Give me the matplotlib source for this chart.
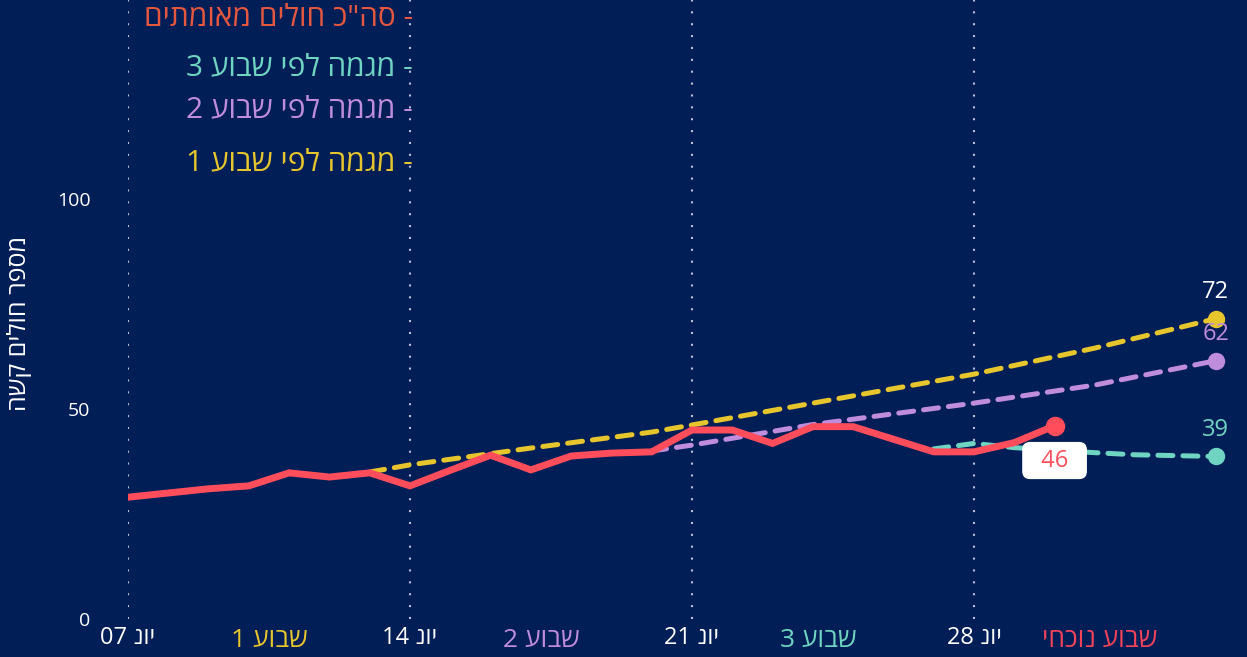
import re
import numpy as np
import pandas as pd
import matplotlib
matplotlib.use('Agg')
import matplotlib.pyplot as plt
import matplotlib.dates as mdates
import matplotlib.transforms as mtransforms

#########################
# DATA
#########################
actual_dates = pd.date_range('2021-06-07', '2021-06-30')
actual = [29, 30, 31, 31.7, 34.8, 33.8, 34.8, 31.7, 35.4, 39, 35.5, 38.8,
          39.5, 39.8, 45, 45, 41.8, 45.8, 45.8, 42.8, 39.8, 39.8, 42, 46]

trend1_dates = pd.to_datetime(['2021-06-13', '2021-06-14', '2021-06-17', '2021-06-20',
                               '2021-06-21', '2021-06-24', '2021-06-28', '2021-07-01', '2021-07-04'])
trend1 = [35, 36.7, 40.7, 44.5, 46.2, 51.4, 58.3, 64.5, 71.5]

trend2_dates = pd.to_datetime(['2021-06-20', '2021-06-21', '2021-06-24', '2021-06-28',
                               '2021-07-01', '2021-07-04'])
trend2 = [40, 41.4, 46.3, 51.4, 55.7, 61.5]

trend3_dates = pd.date_range('2021-06-27', '2021-07-04')
trend3 = [40.5, 41.8, 40.8, 40.2, 39.6, 39.1, 38.9, 38.7]

end_labels = {'actual': '46', 'trend1': '72', 'trend2': '62', 'trend3': '39'}

tick_dates = pd.to_datetime(['2021-06-07', '2021-06-14', '2021-06-21', '2021-06-28'])
tick_labels = ['יונ 07', 'יונ 14', 'יונ 21', 'יונ 28']

week_label_dates = pd.to_datetime(['2021-06-10 12:00', '2021-06-17 06:00',
                                   '2021-06-24 03:00', '2021-07-01 03:00'])
week_labels = ['שבוע 1', 'שבוע 2', 'שבוע 3', 'שבוע נוכחי']

legend_labels = ['- סה"כ חולים מאומתים', '- מגמה לפי שבוע 3',
                 '- מגמה לפי שבוע 2', '- מגמה לפי שבוע 1']
y_label = 'מספר חולים קשה'

#########################
# STYLE
#########################
BG = '#021e57'
RED = '#ff4d5c'
YELLOW = '#e6c62c'
PURPLE = '#bf8ddc'
TEAL = '#6fd5c2'
LEGEND_RED = '#e5573f'
WEEK_COLORS = [YELLOW, PURPLE, TEAL, '#f2435a']
LEGEND_COLORS = [LEGEND_RED, TEAL, PURPLE, YELLOW]

plt.rcParams['font.family'] = ['Open Sans', 'DejaVu Sans']


def visual(s):
    # matplotlib lays text out left to right: flip hebrew, keep digit runs
    return ''.join(reversed(re.findall(r'\d+|\D', s)))


W, H = 1247, 657
fig = plt.figure(figsize=(W / 100, H / 100), dpi=100, facecolor=BG)
ax = fig.add_axes([128 / W, 38 / H, (W - 128) / W, 619 / H], facecolor=BG)

x0 = mdates.date2num(pd.Timestamp('2021-06-07'))
ax.set_xlim(x0, x0 + (W - 128) / 282 * 7)
ax.set_ylim(0, 619 / 4.2)

dash = dict(lw=3.6, dashes=(3, 2), dash_capstyle='round', marker='o', ms=11.5, markevery=[-1])
ax.plot(trend3_dates, trend3, color=TEAL, zorder=3, **dash)
ax.plot(trend2_dates, trend2, color=PURPLE, zorder=3, **dash)
ax.plot(trend1_dates, trend1, color=YELLOW, zorder=3, **dash)
ax.plot(actual_dates, actual, color=RED, lw=5, solid_capstyle='round', solid_joinstyle='miter',
        marker='o', ms=13, markevery=[-1], zorder=5)

# end-of-line values
for d, v, txt, c in [(trend1_dates[-1], trend1[-1], end_labels['trend1'], 'white'),
                     (trend2_dates[-1], trend2[-1], end_labels['trend2'], PURPLE),
                     (trend3_dates[-1], trend3[-1], end_labels['trend3'], TEAL)]:
    ax.annotate(txt, (d, v), xytext=(0, 19), textcoords='offset points',
                ha='center', va='center', color=c, fontsize=17, zorder=6)
ax.annotate('  ' + end_labels['actual'] + '  ', (actual_dates[-1], actual[-1]), xytext=(0, -25),
            textcoords='offset points', ha='center', va='center', color=RED, fontsize=17,
            bbox=dict(boxstyle='round,pad=0.25,rounding_size=0.3', fc='white', ec='white'), zorder=7)

# axes cosmetics
for s in ax.spines.values():
    s.set_visible(False)
ax.set_xticks(mdates.date2num(tick_dates))
ax.set_xticklabels([visual(t) for t in tick_labels], color='white', fontsize=17)
ax.set_yticks([0, 50, 100])
ax.set_yticklabels(['0', '50', '100'], color='white', fontsize=14)
ax.tick_params(axis='x', length=0, pad=5)
ax.tick_params(axis='y', length=0, pad=27)
ax.xaxis.grid(True, color='#b8c1d6', lw=1.5, linestyle=(0, (1, 4.7)))
ax.yaxis.grid(False)

trans = mtransforms.blended_transform_factory(ax.transData, ax.transAxes)
for d, t, c in zip(week_label_dates, week_labels, WEEK_COLORS):
    ax.text(mdates.date2num(d), -0.034, visual(t), transform=trans, ha='center', va='center',
            color=c, fontsize=19, clip_on=False)

for yy, t, c in zip([18, 68, 110, 163], legend_labels, LEGEND_COLORS):
    fig.text(413 / W, 1 - yy / H, visual(t), ha='right', va='center', color=c, fontsize=21.5)

fig.text(20 / W, 1 - 323 / H, visual(y_label), rotation=90, ha='center', va='center',
         color='white', fontsize=18)

fig.savefig('out.png', dpi=100, facecolor=BG)
